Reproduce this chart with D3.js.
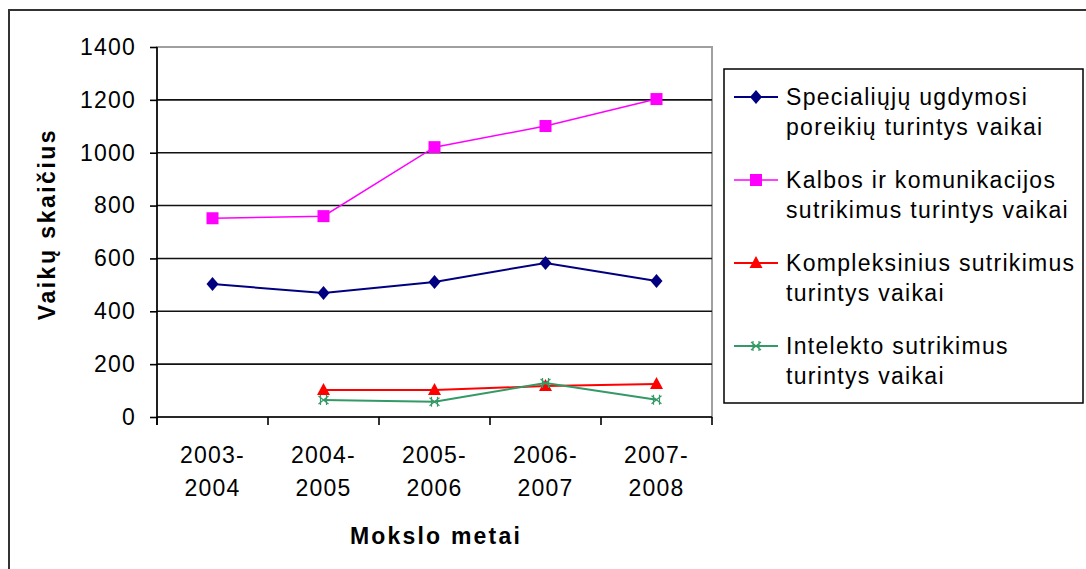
<!DOCTYPE html>
<html>
<head>
<meta charset="utf-8">
<script src="https://cdn.jsdelivr.net/npm/d3@7"></script>
<style>
  body { margin: 0; background: #fff; }
  text { font-family: "Liberation Sans", Arial, sans-serif; fill: #000; }
</style>
</head>
<body>
<svg id="chart" width="1086" height="569"></svg>
<script>
var width = 1086;
var height = 569;

// data
var categories = ["2003-2004", "2004-2005", "2005-2006", "2006-2007", "2007-2008"];
var yTicks = [0, 200, 400, 600, 800, 1000, 1200, 1400];

var specialieji = [503, 469, 511, 583, 515];
var kalbos = [752, 760, 1021, 1101, 1203];
var kompleksiniai = [null, 102, 102, 117, 125];
var intelekto = [null, 64, 58, 129, 65];

var seriesNames = [
  ["Specialiųjų ugdymosi", "poreikių turintys vaikai"],
  ["Kalbos ir komunikacijos", "sutrikimus turintys vaikai"],
  ["Kompleksinius sutrikimus", "turintys vaikai"],
  ["Intelekto sutrikimus", "turintys vaikai"]
];

var series = [
  { name: seriesNames[0], values: specialieji, color: "#000080", marker: "diamond", lw: 2 },
  { name: seriesNames[1], values: kalbos, color: "#ff00ff", marker: "square", lw: 1.5 },
  { name: seriesNames[2], values: kompleksiniai, color: "#ff0000", marker: "triangle", lw: 2 },
  { name: seriesNames[3], values: intelekto, color: "#339966", marker: "star", lw: 2 }
];

var plot = { left: 157, right: 712, top: 47, bottom: 417 };

var svg = d3.select("#chart");

// outer frame
svg.append("rect")
  .attr("x", 9).attr("y", 10)
  .attr("width", 1100).attr("height", 600)
  .attr("fill", "none")
  .attr("stroke", "#333")
  .attr("stroke-width", 2);

var xScale = d3.scaleBand()
  .domain(categories)
  .range([plot.left, plot.right])
  .paddingInner(0).paddingOuter(0);

var yScale = d3.scaleLinear()
  .domain([0, 1400])
  .range([plot.bottom, plot.top]);

function cx(i) {
  return xScale(categories[i]) + xScale.bandwidth() / 2;
}

// plot area border (grey)
svg.append("rect")
  .attr("x", plot.left).attr("y", plot.top)
  .attr("width", plot.right - plot.left)
  .attr("height", plot.bottom - plot.top)
  .attr("fill", "none")
  .attr("stroke", "#a0a0a0")
  .attr("stroke-width", 2);

// gridlines
svg.append("g")
  .selectAll("line")
  .data(yTicks.filter(function(d) { return d > 0 && d < 1400; }))
  .enter().append("line")
  .attr("x1", plot.left).attr("x2", plot.right)
  .attr("y1", function(d) { return yScale(d); })
  .attr("y2", function(d) { return yScale(d); })
  .attr("stroke", "#111")
  .attr("stroke-width", 1.6);

// y axis
var yAxis = d3.axisLeft(yScale)
  .tickValues(yTicks)
  .tickFormat(d3.format("d"))
  .tickSize(7)
  .tickPadding(14);

var gy = svg.append("g")
  .attr("transform", "translate(" + plot.left + ",0)")
  .call(yAxis);
gy.select(".domain").attr("stroke", "#000").attr("stroke-width", 1.6)
  .attr("d", "M0," + plot.top + "V" + (plot.bottom + 8));
gy.selectAll(".tick line").attr("stroke", "#000").attr("stroke-width", 1.6);
gy.selectAll(".tick text")
  .style("font-size", "23px")
  .style("letter-spacing", "1.2px")
  .style("font-family", "Liberation Sans, Arial, sans-serif")
  .attr("fill", "#000");

// x axis line + ticks at band boundaries
svg.append("line")
  .attr("x1", plot.left).attr("x2", plot.right)
  .attr("y1", plot.bottom).attr("y2", plot.bottom)
  .attr("stroke", "#000").attr("stroke-width", 1.6);

var bounds = categories.map(function(c) { return xScale(c); }).concat([plot.right]);
svg.append("g")
  .selectAll("line")
  .data(bounds)
  .enter().append("line")
  .attr("x1", function(d) { return d; })
  .attr("x2", function(d) { return d; })
  .attr("y1", plot.bottom).attr("y2", plot.bottom + 8)
  .attr("stroke", "#000").attr("stroke-width", 1.6);

// x tick labels (two lines)
var xl = svg.append("g")
  .selectAll("text")
  .data(categories)
  .enter().append("text")
  .attr("text-anchor", "middle")
  .style("font-size", "23px")
  .style("letter-spacing", "1.2px");
xl.append("tspan")
  .attr("x", function(d, i) { return cx(i); })
  .attr("y", 463)
  .text(function(d) { return d.split("-")[0] + "-"; });
xl.append("tspan")
  .attr("x", function(d, i) { return cx(i); })
  .attr("y", 496)
  .text(function(d) { return d.split("-")[1]; });

// axis titles
svg.append("text")
  .attr("x", 436).attr("y", 544)
  .attr("text-anchor", "middle")
  .style("font-size", "23px")
  .style("font-weight", "bold")
  .style("letter-spacing", "2.2px")
  .text("Mokslo metai");

svg.append("text")
  .attr("transform", "translate(55,224) rotate(-90)")
  .attr("text-anchor", "middle")
  .style("font-size", "23px")
  .style("font-weight", "bold")
  .style("letter-spacing", "2.5px")
  .text("Vaikų skaičius");

// markers
function drawMarker(g, type, color, x, y) {
  if (type === "diamond") {
    g.append("path")
      .attr("d", "M" + x + "," + (y - 7) + "L" + (x + 6) + "," + y + "L" + x + "," + (y + 7) + "L" + (x - 6) + "," + y + "Z")
      .attr("fill", color);
  } else if (type === "square") {
    g.append("rect")
      .attr("x", x - 6).attr("y", y - 6)
      .attr("width", 12).attr("height", 12)
      .attr("fill", color);
  } else if (type === "triangle") {
    g.append("path")
      .attr("d", "M" + x + "," + (y - 7) + "L" + (x + 6.5) + "," + (y + 5) + "L" + (x - 6.5) + "," + (y + 5) + "Z")
      .attr("fill", color);
  } else if (type === "star") {
    g.append("path")
      .attr("d", "M" + (x - 5) + "," + (y - 4) + "L" + (x + 5) + "," + (y + 4) +
        "M" + (x + 5) + "," + (y - 4) + "L" + (x - 5) + "," + (y + 4) +
        "M" + (x - 3) + "," + (y - 5) + "L" + (x - 3) + "," + (y + 5) +
        "M" + (x + 3) + "," + (y - 5) + "L" + (x + 3) + "," + (y + 5))
      .attr("stroke", color).attr("stroke-width", 1.2).attr("fill", "none");
  }
}

var line = d3.line()
  .defined(function(d) { return d != null; })
  .x(function(d, i) { return cx(i); })
  .y(function(d) { return yScale(d); });

series.forEach(function(s) {
  var g = svg.append("g");
  g.append("path")
    .datum(s.values)
    .attr("d", line)
    .attr("fill", "none")
    .attr("stroke", s.color)
    .attr("stroke-width", s.lw);
  s.values.forEach(function(v, i) {
    if (v != null) drawMarker(g, s.marker, s.color, cx(i), yScale(v));
  });
});

// legend
var legend = svg.append("g");
legend.append("rect")
  .attr("x", 724).attr("y", 69)
  .attr("width", 359).attr("height", 334)
  .attr("fill", "#fff")
  .attr("stroke", "#000")
  .attr("stroke-width", 1.5);

series.forEach(function(s, i) {
  var y0 = 97 + i * 83;
  var g = legend.append("g");
  g.append("line")
    .attr("x1", 734).attr("x2", 778)
    .attr("y1", y0).attr("y2", y0)
    .attr("stroke", s.color).attr("stroke-width", s.lw);
  drawMarker(g, s.marker, s.color, 756, y0);
  var t = g.append("text")
    .style("font-size", "23px")
    .style("letter-spacing", "1.3px");
  t.append("tspan").attr("x", 786).attr("y", y0 + 8).text(s.name[0]);
  t.append("tspan").attr("x", 786).attr("y", y0 + 38).text(s.name[1]);
});
</script>
</body>
</html>
